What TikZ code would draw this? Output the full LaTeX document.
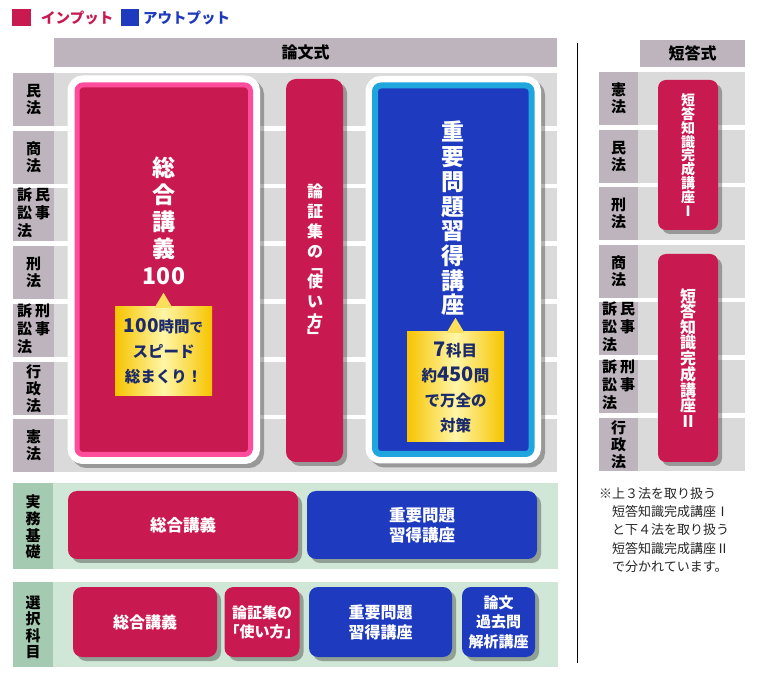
\documentclass[tikz,border=0pt]{standalone}
\usepackage{fontspec}
\setmainfont{Noto Sans CJK JP}
\usetikzlibrary{shadows}

\definecolor{inputred}{RGB}{200,26,80}
\definecolor{outputblue}{RGB}{30,58,190}
\definecolor{mauve}{RGB}{189,180,189}
\definecolor{rowbg}{RGB}{218,218,218}
\definecolor{greenlab}{RGB}{164,203,177}
\definecolor{greenbg}{RGB}{208,230,214}
\definecolor{pinkframe}{RGB}{255,77,158}
\definecolor{cyanframe}{RGB}{31,166,222}
\definecolor{gold1}{RGB}{246,196,0}
\definecolor{gold2}{RGB}{255,246,168}
\definecolor{navytext}{RGB}{27,42,107}

\newcommand{\jpfs}[2]{\fontsize{#1}{#2}\selectfont}
\newcommand{\sosho}[1]{\begin{tabular}{@{}c@{\hspace{3pt}}c@{}}訴&#1\\訟&事\\法&\end{tabular}}

\tikzset{
  lawlab/.style={font=\jpfs{15}{17}\bfseries, align=center, inner sep=0pt},
  headtxt/.style={font=\jpfs{16}{18}\bfseries, inner sep=0pt},
  legendtxt/.style={font=\jpfs{14.5}{17}\bfseries, anchor=west, inner sep=0pt},
  bigbox/.style={rounded corners=6pt, line width=5pt, inner sep=0pt,
    preaction={draw=black, draw opacity=.3, line width=19pt, transform canvas={xshift=4pt,yshift=-4pt}},
    preaction={draw=white, line width=19pt}},
  bigtxt/.style={text=white, font=\jpfs{23}{27}\bfseries, align=center, inner sep=0pt},
  callout/.style={left color=gold1, right color=gold1, middle color=gold2, text=navytext,
    font=\jpfs{15.5}{25}\bfseries, align=center, inner sep=0pt},
  coursebox/.style={rounded corners=9pt, inner sep=0pt, text=white, align=center,
    drop shadow={shadow xshift=4pt, shadow yshift=-4pt, fill=black, opacity=.3}},
  incourse/.style={coursebox, fill=inputred},
  outcourse/.style={coursebox, fill=outputblue}
}

\begin{document}
\begin{tikzpicture}[x=1pt,y=-1pt]

    \fill[white] (0,0) rectangle (761,684);
    \useasboundingbox (0,0) rectangle (761,684);

    % Legend
    \fill[inputred] (12,9) rectangle (31,26);
    \node[legendtxt, text=inputred] (legIn) at (41,17.5) {インプット};
    \fill[outputblue] (121,9) rectangle (139,26);
    \node[legendtxt, text=outputblue] (legOut) at (143,17.5) {アウトプット};

    % Ronbun header
    \fill[mauve] (54,38) rectangle (557,67);
    \node[headtxt] (ronbunH) at (305.5,52.5) {論文式};

    % Ronbun rows
    \foreach \t/\lab [count=\i] in {73/{民\\法}, 131/{商\\法}, 188/{\sosho{民}}, 246/{刑\\法},
                                    304/{\sosho{刑}}, 362/{行\\政\\法}, 419/{憲\\法}}{
        \fill[mauve] (13,\t) rectangle (54,\t+53);
        \fill[rowbg] (54,\t) rectangle (557,\t+53);
        \node[lawlab] (ml\i) at (33.5,\t+26.5) {\lab};
    }

    % Sogo kogi 100
    \node[bigbox, fill=inputred, draw=pinkframe, minimum width=173.5pt, minimum height=369.5pt] (sogo) at (163.75,269.75) {};
    \node[bigtxt] (sogoT) at (164,221) {総\\合\\講\\義\\100};
    \node[callout, minimum width=97pt, minimum height=89pt] (sogoC) at (163.5,351.5)
        {{\jpfs{19}{25}100}時間{\jpfs{13.5}{25}で}\\スピード\\総まくり！};
    \fill[gold2!55!gold1] ([xshift=-9pt,yshift=-1pt]sogoC.north) -- ([yshift=14pt]sogoC.north) -- ([xshift=9pt,yshift=-1pt]sogoC.north) -- cycle;

    % Ronshoshu bar
    \node[incourse, rounded corners=10pt, minimum width=57pt, minimum height=383pt] (ronsho) at (314.5,270.5) {};
    \node[bigtxt, font=\jpfs{16}{20}\bfseries] (ronshoT) at (315,263)
        {論\\証\\集\\の\\[-5pt]﹁\\[-5pt]使\\い\\方\\[-5pt]﹂};

    % Juyo mondai
    \node[bigbox, fill=outputblue, draw=cyanframe, line width=6pt, minimum width=156.5pt, minimum height=368.5pt] (juyo) at (453.25,269.75) {};
    \node[bigtxt, font=\jpfs{23}{24.7}\bfseries] (juyoT) at (453,218.5) {重\\要\\問\\題\\習\\得\\講\\座};
    \node[callout, minimum width=97pt, minimum height=110pt] (juyoC) at (455.5,387)
        {{\jpfs{20}{25}7}科目\\約{\jpfs{20}{25}450}問\\で万全の\\対策};
    \fill[gold2!55!gold1] ([xshift=-9pt,yshift=-1pt]juyoC.north) -- ([yshift=14pt]juyoC.north) -- ([xshift=9pt,yshift=-1pt]juyoC.north) -- cycle;

    % Jitsumu kiso
    \fill[greenlab] (13,483) rectangle (53,569);
    \fill[greenbg] (53,483) rectangle (558,569);
    \node[lawlab, font=\jpfs{15}{16.7}\bfseries] (jitsuL) at (33,527) {実\\務\\基\\礎};
    \node[incourse, minimum width=230pt, minimum height=68pt, font=\jpfs{16.5}{20}\bfseries] (jitsuSogo) at (183,525) {総合講義};
    \node[outcourse, minimum width=230pt, minimum height=68pt, font=\jpfs{16.5}{20}\bfseries] (jitsuJuyo) at (422,525) {重要問題\\習得講座};

    % Sentaku kamoku
    \fill[greenlab] (13,582) rectangle (53,667);
    \fill[greenbg] (53,582) rectangle (558,667);
    \node[lawlab, font=\jpfs{15}{16.3}\bfseries] (senL) at (33,627.5) {選\\択\\科\\目};
    \node[incourse, minimum width=144pt, minimum height=70pt, font=\jpfs{16}{20}\bfseries] (senSogo) at (145,622) {総合講義};
    \node[incourse, minimum width=72pt, minimum height=70pt, font=\jpfs{15}{19}\bfseries] (senRonsho) at (262,622) {論証集の\\「使い方」};
    \node[outcourse, minimum width=143pt, minimum height=70pt, font=\jpfs{16}{20}\bfseries] (senJuyo) at (380.5,622) {重要問題\\習得講座};
    \node[outcourse, minimum width=73pt, minimum height=70pt, font=\jpfs{15}{19.5}\bfseries] (senKako) at (498.5,622) {論文\\過去問\\解析講座};

    % Divider
    \draw[line width=1pt] (577,43) -- (577,663);

    % Tanto header
    \fill[mauve] (640,40) rectangle (745,67);
    \node[headtxt] (tantoH) at (692.5,53.5) {短答式};

    % Tanto rows
    \foreach \t/\lab [count=\i] in {72/{憲\\法}, 130/{民\\法}, 187/{刑\\法}, 245/{商\\法},
                                    302/{\sosho{民}}, 360/{\sosho{刑}}, 418/{行\\政\\法}}{
        \fill[mauve] (599,\t) rectangle (638,\t+53);
        \fill[rowbg] (638,\t) rectangle (745,\t+53);
        \node[lawlab] (tl\i) at (618.5,\t+26.5) {\lab};
    }

    % Tanto chishiki kansei koza
    \node[incourse, rounded corners=8pt, minimum width=60pt, minimum height=150pt, font=\jpfs{14}{13.9}\bfseries] (tanto1) at (688,155)
        {短\\答\\知\\識\\完\\成\\講\\座\\Ⅰ};
    \node[incourse, rounded corners=8pt, minimum width=60pt, minimum height=208pt, font=\jpfs{16}{15.5}\bfseries] (tanto2) at (688,358)
        {短\\答\\知\\識\\完\\成\\講\\座\\Ⅱ};

    % Note
    \node[anchor=north west, align=left, inner sep=0pt, text=black!85, font=\jpfs{13}{18.3}] (note) at (612,487)
        {\llap{※}上３法を取り扱う\\短答知識完成講座Ⅰ\\と下４法を取り扱う\\短答知識完成講座Ⅱ\\で分かれています。};

\end{tikzpicture}
\end{document}
